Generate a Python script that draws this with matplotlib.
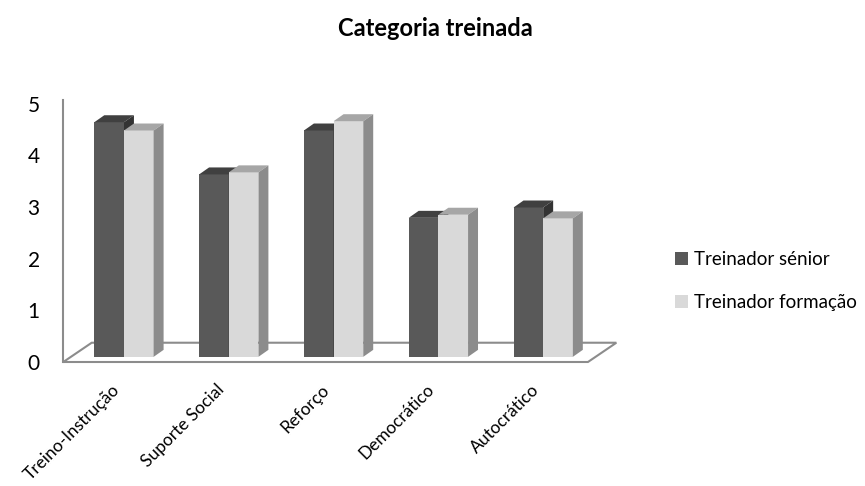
import matplotlib
matplotlib.use("Agg")
import matplotlib.pyplot as plt
from matplotlib.patches import Polygon
import numpy as np

plt.rcParams['font.family'] = ['Lato', 'DejaVu Sans']

categories = ['Treino-Instrução', 'Suporte Social', 'Reforço', 'Democrático', 'Autocrático']
senior = [4.54, 3.53, 4.38, 2.69, 2.89]
formacao = [4.38, 3.57, 4.56, 2.75, 2.68]
series_names = ['Treinador sénior', 'Treinador formação']

# face colours: front, top, side
dark = ('#595959', '#404040', '#333333')
light = ('#d9d9d9', '#a6a6a6', '#8c8c8c')
edge_grey = '#8c8c8c'

fig = plt.figure(figsize=(8.65, 4.86), dpi=100)
ax = fig.add_axes([63.3 / 865, 124 / 486, 549.7 / 865, 262 / 486])
ax.set_xlim(-0.579, 4.666)
ax.set_ylim(0, 5.07)

x = np.arange(len(categories))
w = 0.283        # bar width
base = 0.10      # bars sit a bit behind the front edge of the floor
ddx, ddy = 0.095, 0.135   # bar depth offset
fdx, fdy = 0.271, 0.373   # floor depth offset

# floor
floor = Polygon([(-0.579, 0), (4.427, 0), (4.427 + fdx, fdy), (-0.579 + fdx, fdy)],
                closed=True, facecolor='white', edgecolor=edge_grey, lw=1.5,
                clip_on=False, zorder=1)
ax.add_patch(floor)


def bar3d(x0, h, cols, label=None):
    top = base + h
    b = ax.bar(x0, h, width=w, bottom=base, align='edge', color=cols[0],
               edgecolor='none', label=label, zorder=3)
    ax.add_patch(Polygon([(x0, top), (x0 + w, top), (x0 + w + ddx, top + ddy),
                          (x0 + ddx, top + ddy)], closed=True, facecolor=cols[1],
                         edgecolor='none', zorder=3, clip_on=False))
    ax.add_patch(Polygon([(x0 + w, base), (x0 + w + ddx, base + ddy),
                          (x0 + w + ddx, top + ddy), (x0 + w, top)], closed=True,
                         facecolor=cols[2], edgecolor='none', zorder=3, clip_on=False))
    return b


for i in range(len(categories)):
    bar3d(x[i] - w, senior[i], dark, series_names[0] if i == 0 else None)
    bar3d(x[i], formacao[i], light, series_names[1] if i == 0 else None)

for s in ['top', 'right', 'bottom']:
    ax.spines[s].set_visible(False)
ax.spines['left'].set_color(edge_grey)
ax.spines['left'].set_linewidth(1.5)

ax.set_yticks(range(6))
ax.tick_params(axis='y', length=0, pad=17, labelsize=15)
ax.set_xticks(x - 0.12)
ax.set_xticklabels(categories, rotation=45, ha='right', rotation_mode='anchor', fontsize=12.5)
ax.tick_params(axis='x', length=0, pad=14)

fig.text(435 / 865, 1 - 28 / 486, 'Categoria treinada', ha='center', va='center',
         fontsize=17, fontweight='bold')

fig.legend(loc='center left', bbox_to_anchor=(675 / 865, 1 - 281 / 486), frameon=False,
           fontsize=13.5, handlelength=0.7, handleheight=0.7, handletextpad=0.3,
           labelspacing=1.4, borderpad=0, borderaxespad=0)

fig.savefig('out.png', dpi=100)
